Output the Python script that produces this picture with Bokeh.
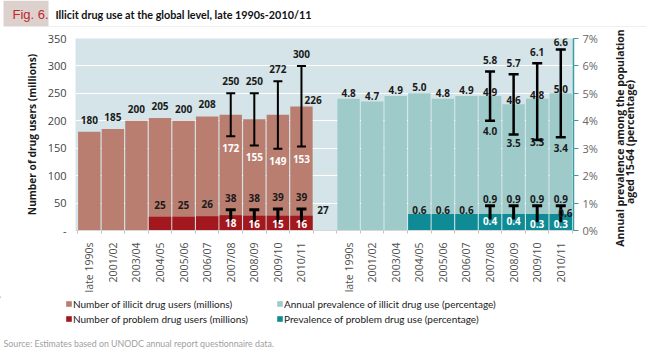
import math
from bokeh.plotting import figure
from bokeh.layouts import column, row
from bokeh.models import (ColumnDataSource, Range1d, LinearAxis, FixedTicker, PrintfTickFormatter,
                          Legend, LegendItem)
from bokeh.core.properties import value
from bokeh.embed import file_html
from bokeh.resources import INLINE

# ---------------- data ----------------
periods = ["late 1990s", "2001/02", "2003/04", "2004/05", "2005/06",
           "2006/07", "2007/08", "2008/09", "2009/10", "2010/11"]

# number of illicit drug users (millions)
users = [180, 185, 200, 205, 200, 208, 211, 203, 211, 226]
users_low = [None, None, None, None, None, None, 172, 155, 149, 153]
users_high = [None, None, None, None, None, None, 250, 250, 272, 300]

# number of problem drug users (millions)
problem_users = [None, None, None, 25, 25, 26, 28, 27, 27, 27]
problem_low = [None, None, None, None, None, None, 18, 16, 15, 16]
problem_high = [None, None, None, None, None, None, 38, 38, 39, 39]

# annual prevalence of illicit drug use (%)
prevalence = [4.8, 4.7, 4.9, 5.0, 4.8, 4.9, 4.9, 4.6, 4.8, 5.0]
prev_low = [None, None, None, None, None, None, 4.0, 3.5, 3.3, 3.4]
prev_high = [None, None, None, None, None, None, 5.8, 5.7, 6.1, 6.6]

# prevalence of problem drug use (%)
problem_prev = [None, None, None, 0.6, 0.6, 0.6, 0.6, 0.6, 0.6, 0.6]
pprev_low = [None, None, None, None, None, None, 0.4, 0.4, 0.3, 0.3]
pprev_high = [None, None, None, None, None, None, 0.9, 0.9, 0.9, 0.9]

left_ticks = [0, 50, 100, 150, 200, 250, 300, 350]
right_ticks = [0, 1, 2, 3, 4, 5, 6, 7]

title_text = "Illicit drug use at the global level, late 1990s-2010/11"
fig_text = "Fig. 6."
source_text = "Source: Estimates based on UNODC annual report questionnaire data."
right_title = ["Annual prevalence among the population", "aged 15-64 (percentage)"]
leg_labels = ["Number of illicit drug users (millions)",
              "Number of problem drug users (millions)",
              "Annual prevalence of illicit drug use (percentage)",
              "Prevalence of problem drug use (percentage)"]

# ---------------- styles ----------------
C_USERS = "#b97e70"
C_PROB = "#a3171e"
C_PREV = "#9ecbca"
C_PPREV = "#0e8b94"
C_BG = "#d4e4e8"
C_AXIS_R = "#3a9ea5"
NUM_FONT = "Open Sans"
TXT_FONT = "Lato"
# pixel offsets of the prevalence range labels (placement only)
PREV_LOW_OFFSETS = [10, 8, 2, 11]
PREV_HIGH_OFFSETS = [-11, -11, -11, -7]

W = 650
SIDE_W = 40
HEAD_H = 27
MAIN_H = 269
FOOT_H = 353 - HEAD_H - MAIN_H
n = len(periods)
GAP = 11  # slot index of the first bar of the right-hand group


def blank_fig(w, h):
    f = figure(width=w, height=h, output_backend="svg", toolbar_location=None,
               x_range=Range1d(0, w), y_range=Range1d(h, 0),
               x_axis_location=None, y_axis_location=None,
               min_border=0, min_border_left=0, min_border_right=0,
               min_border_top=0, min_border_bottom=0)
    f.frame_align = False
    f.outline_line_color = None
    f.grid.visible = False
    f.background_fill_color = "white"
    f.border_fill_color = "white"
    return f


# ---------------- header ----------------
head = blank_fig(W, HEAD_H)
head.quad(left=[3], right=[48], top=[0], bottom=[26], fill_color="#dcd1cd", line_color=None)
head.segment(x0=[48], y0=[26.5], x1=[W - 4], y1=[26.5], line_color="#dedede", line_width=1)
head.text(x=[12], y=[13.5], text=[fig_text], text_font=value("Liberation Sans"),
          text_font_size="13px", text_color="#c0272d", text_baseline="middle")
head.text(x=[55], y=[13.5], text=[title_text], text_font=value(TXT_FONT), text_font_style="bold",
          text_font_size="10.8px", text_color="#111111", text_baseline="middle")

# ---------------- main figure ----------------
p = figure(width=W - SIDE_W, height=MAIN_H, output_backend="svg", toolbar_location=None,
           x_range=Range1d(-0.585, 20.54), y_range=Range1d(0, 350),
           min_border_left=75, min_border_right=W - SIDE_W - 573,
           min_border_top=11, min_border_bottom=66)
p.frame_align = False
p.extra_y_ranges = {"pct": Range1d(0, 7)}
p.background_fill_color = C_BG
p.border_fill_color = "white"
p.outline_line_color = None
p.xgrid.grid_line_color = None
p.ygrid.grid_line_color = "white"
p.ygrid.grid_line_width = 1
p.ygrid.ticker = FixedTicker(ticks=left_ticks)


def fmt_int(v):
    return "{:d}".format(v)


def fmt_pct(v):
    return "{:.1f}".format(v)


def build(xs, vals, lo, hi, fmt):
    """Split a series into all bars, plain bars and bars with an estimate range."""
    plain = {"x": [], "y": [], "t": []}
    rng = {"x": [], "y": [], "t": [], "lo": [], "hi": [], "tlo": [], "thi": []}
    allb = {"x": [], "y": []}
    for x, v, l, h in zip(xs, vals, lo, hi):
        if v is None:
            continue
        allb["x"].append(x)
        allb["y"].append(v)
        if h is None:
            plain["x"].append(x); plain["y"].append(v); plain["t"].append(fmt(v))
        else:
            rng["x"].append(x); rng["y"].append(v); rng["t"].append(fmt(v))
            rng["lo"].append(l); rng["hi"].append(h)
            rng["tlo"].append(fmt(l)); rng["thi"].append(fmt(h))
    return ColumnDataSource(allb), ColumnDataSource(plain), ColumnDataSource(rng)


def txt(source, y, text, yoff, color="#1a1a1a", align="center", xoff=0, rng="default"):
    p.text(x="x", y=y, text=text, source=source, y_range_name=rng,
           text_font=value(NUM_FONT), text_font_style="bold", text_font_size="10px",
           text_color=color, text_align=align, text_baseline="alphabetic",
           x_offset=xoff, y_offset=yoff)


def whisk(source, rng, lw, cap, lower_cap=True):
    p.segment(x0="x", y0="lo", x1="x", y1="hi", source=source, y_range_name=rng,
              line_color="black", line_width=lw)
    p.dash(x="x", y="hi", source=source, y_range_name=rng, size=cap,
           line_color="black", line_width=lw)
    if lower_cap:
        p.dash(x="x", y="lo", source=source, y_range_name=rng, size=cap,
               line_color="black", line_width=lw)


xl = list(range(n))
xr = [i + GAP for i in range(n)]

# ---- left group: numbers (millions) ----
u_all, u_plain, u_rng = build(xl, users, users_low, users_high, fmt_int)
pu_all, pu_plain, pu_rng = build(xl, problem_users, problem_low, problem_high, fmt_int)
r_users = p.vbar(x="x", top="y", width=0.95, source=u_all, fill_color=C_USERS, line_color=None)
r_prob = p.vbar(x="x", top="y", width=0.95, source=pu_all, fill_color=C_PROB, line_color=None)

whisk(u_rng, "default", 2, 9)
whisk(pu_rng, "default", 3, 10, lower_cap=False)

txt(u_plain, "y", "t", -12)
txt(u_rng, "hi", "thi", -12)
txt(u_rng, "lo", "tlo", 12, color="white")
last_u = ColumnDataSource({"x": [xl[-1]], "y": [users[-1]], "t": [fmt_int(users[-1])]})
txt(last_u, "y", "t", -7, align="left", xoff=3)

txt(pu_plain, "y", "t", -12)
txt(pu_rng, "hi", "thi", -12)
txt(pu_rng, "lo", "tlo", 2, color="white")
last_pu = ColumnDataSource({"x": [xl[-1] + 0.5], "y": [problem_users[-1]],
                            "t": [fmt_int(problem_users[-1])]})
txt(last_pu, "y", "t", -6, align="left", xoff=4)

# ---- right group: prevalence (%) ----
v_all, v_plain, v_rng = build(xr, prevalence, prev_low, prev_high, fmt_pct)
pv_all, pv_plain, pv_rng = build(xr, problem_prev, pprev_low, pprev_high, fmt_pct)
v_rng.data["off_lo"] = PREV_LOW_OFFSETS
v_rng.data["off_hi"] = PREV_HIGH_OFFSETS
r_prev = p.vbar(x="x", top="y", width=0.95, source=v_all, y_range_name="pct",
                fill_color=C_PREV, line_color=None)
r_pprev = p.vbar(x="x", top="y", width=0.95, source=pv_all, y_range_name="pct",
                 fill_color=C_PPREV, line_color=None)

whisk(v_rng, "pct", 2.5, 10)
whisk(pv_rng, "pct", 3, 10, lower_cap=False)

txt(v_plain, "y", "t", -6, rng="pct")
txt(v_rng, "y", "t", -4, rng="pct")
txt(v_rng, "hi", "thi", "off_hi", rng="pct")
txt(v_rng, "lo", "tlo", "off_lo", rng="pct")

txt(pv_plain, "y", "t", -4, rng="pct")
txt(pv_rng, "hi", "thi", -7, rng="pct")
txt(pv_rng, "lo", "tlo", 1.5, color="white", rng="pct")
last_pv = ColumnDataSource({"x": [xr[-1] + 0.5], "y": [problem_prev[-1]],
                            "t": [fmt_pct(problem_prev[-1])]})
txt(last_pv, "y", "t", -1.5, align="right", xoff=0, rng="pct")

# ---------------- axes ----------------
xa = p.xaxis[0]
centers = xl + xr
edges = [x - 0.5 for x in xl] + [xl[-1] + 0.5] + [x - 0.5 for x in xr] + [xr[-1] + 0.5]
xa.ticker = FixedTicker(ticks=centers, minor_ticks=edges)
xa.major_label_overrides = {c: periods[i % n] for i, c in enumerate(centers)}
xa.major_label_orientation = math.pi / 2
xa.major_tick_out = 0
xa.major_tick_in = 0
xa.minor_tick_out = 3
xa.minor_tick_in = 0
xa.minor_tick_line_color = "#c4c4c4"
xa.axis_line_color = "#d8d8d8"
xa.major_label_standoff = 9
xa.major_label_text_font = NUM_FONT
xa.major_label_text_font_size = "10.5px"
xa.major_label_text_color = "#505050"

ya = p.yaxis[0]
ya.ticker = FixedTicker(ticks=left_ticks)
ya.major_label_overrides = {0: "-"}
ya.axis_line_color = None
ya.major_tick_line_color = None
ya.major_tick_out = 0
ya.major_tick_in = 0
ya.minor_tick_line_color = None
ya.minor_tick_out = 0
ya.major_label_standoff = 9
ya.major_label_text_font = NUM_FONT
ya.major_label_text_font_size = "11px"
ya.major_label_text_color = "#444444"
ya.axis_label = "Number of drug users (millions)"
ya.axis_label_text_font = NUM_FONT
ya.axis_label_text_font_style = "bold"
ya.axis_label_text_font_size = "10.2px"
ya.axis_label_text_color = "#1a1a1a"
ya.axis_label_standoff = 6

ra = LinearAxis(y_range_name="pct", ticker=FixedTicker(ticks=right_ticks),
                formatter=PrintfTickFormatter(format="%d%%"))
ra.axis_line_color = C_AXIS_R
ra.axis_line_width = 1.5
ra.major_tick_line_color = C_AXIS_R
ra.major_tick_out = 5
ra.major_tick_in = 0
ra.minor_tick_line_color = None
ra.minor_tick_out = 0
ra.major_label_standoff = 4
ra.major_label_text_font = NUM_FONT
ra.major_label_text_font_size = "11px"
ra.major_label_text_color = "#666666"
p.add_layout(ra, "right")

# ---------------- right-hand axis title (reads bottom-to-top) ----------------
side = blank_fig(SIDE_W, MAIN_H)
side.text(x=[9, 19], y=[110.5, 114.5], text=right_title, angle=math.pi / 2,
          text_font=value(NUM_FONT), text_font_style="bold", text_font_size="10.5px",
          text_color="#1a1a1a", text_align="center", text_baseline="middle")

# ---------------- footer: legend + source ----------------
foot = blank_fig(W, FOOT_H)
# legend swatches in the series colours (one point far outside the view, legend only)
sw = [foot.vbar(x=[-1000], top=[1], width=1, fill_color=c, line_color=None)
      for c in (C_USERS, C_PROB, C_PREV, C_PPREV)]


def make_legend(idx, px):
    lg = Legend(items=[LegendItem(label=leg_labels[i], renderers=[sw[i]]) for i in idx],
                location=(px, FOOT_H - 30), orientation="vertical",
                background_fill_alpha=0, border_line_alpha=0, padding=0, margin=0,
                spacing=0, glyph_width=7, glyph_height=7, label_height=15,
                label_standoff=1, label_text_font=TXT_FONT, label_text_font_size="10px",
                label_text_color="#1a1a1a")
    foot.add_layout(lg, "center")


make_legend([0, 1], 65)
make_legend([2, 3], 276)
foot.text(x=[3], y=[FOOT_H - 10], text=[source_text], text_font=value(TXT_FONT),
          text_font_size="8.8px", text_color="#a0a0a0", text_baseline="middle")

layout = column(head, row(p, side, spacing=0), foot, spacing=0)
open("out.html", "w").write(file_html(layout, INLINE))
